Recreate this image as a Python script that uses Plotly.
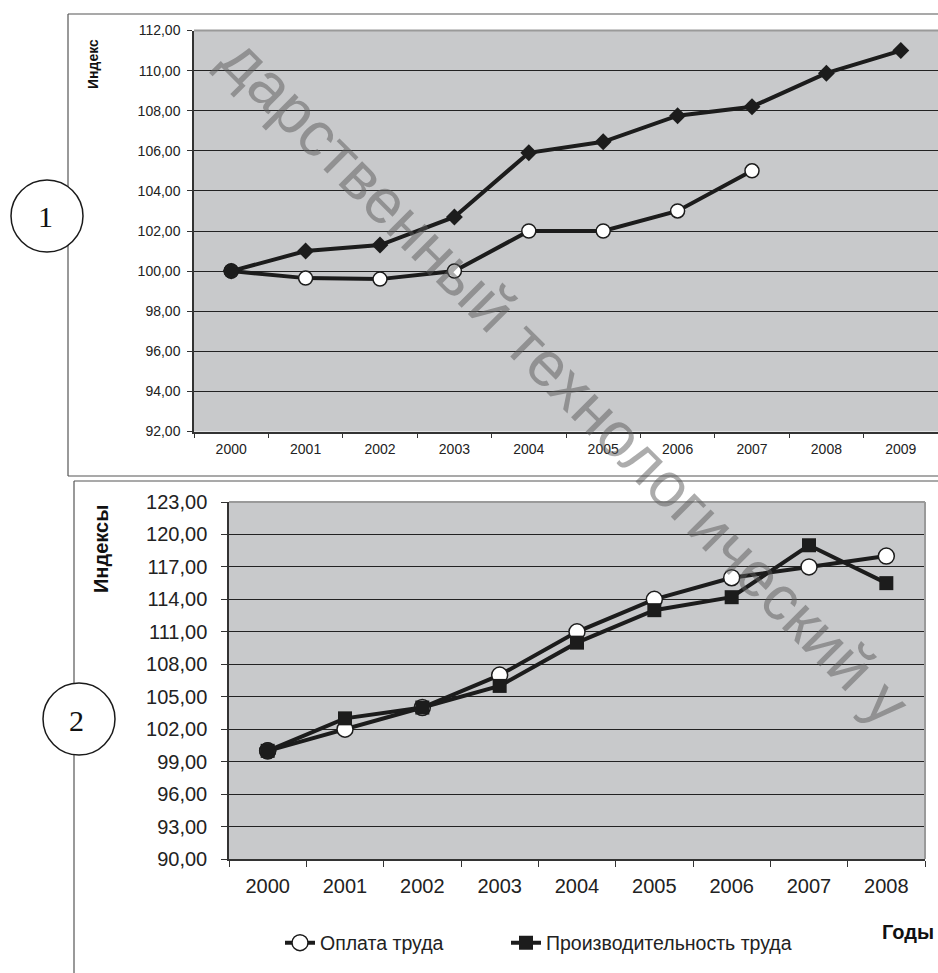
import plotly.graph_objects as go

W, H = 938, 973

# ---- data -----------------------------------------------------------------
years_1 = ["2000", "2001", "2002", "2003", "2004", "2005", "2006", "2007", "2008", "2009"]
index_upper = [100.0, 101.0, 101.3, 102.7, 105.9, 106.45, 107.75, 108.2, 109.87, 111.0]
index_lower = [100.0, 99.65, 99.6, 100.0, 102.0, 102.0, 103.0, 105.0, None, None]
y_ticks_1 = [92, 94, 96, 98, 100, 102, 104, 106, 108, 110, 112]

years_2 = ["2000", "2001", "2002", "2003", "2004", "2005", "2006", "2007", "2008"]
wages = [100.0, 102.0, 104.0, 107.0, 111.0, 114.0, 116.0, 117.0, 118.0]
productivity = [100.0, 103.0, 104.0, 106.0, 110.0, 113.0, 114.2, 119.0, 115.5]
y_ticks_2 = [90, 93, 96, 99, 102, 105, 108, 111, 114, 117, 120, 123]

name_wages = "Оплата труда"
name_prod = "Производительность труда"

# ---- helpers (pixel -> paper) ----------------------------------------------
def fx(x):
    return x / W


def fy(y):
    return 1 - y / H


SANS = "Arial, Liberation Sans, sans-serif"
SERIF = "Times New Roman, Liberation Serif, serif"
INK = "#1c1c1c"
PLOT_BG = "#c8c9cb"

fig = go.Figure()

# ---- chart 1 ---------------------------------------------------------------
fig.add_trace(go.Scatter(
    x=years_1, y=index_lower, mode="lines+markers", showlegend=False,
    line=dict(color=INK, width=4),
    marker=dict(symbol="circle", size=14, color="white",
                line=dict(color=INK, width=1.5)),
    xaxis="x", yaxis="y", connectgaps=False,
))
# shared starting point, where both series overlap
fig.add_trace(go.Scatter(
    x=years_1[:1], y=index_lower[:1], mode="markers", showlegend=False,
    marker=dict(symbol="circle", size=14, color="#333333",
                line=dict(color=INK, width=1.5)),
    xaxis="x", yaxis="y",
))
fig.add_trace(go.Scatter(
    x=years_1, y=index_upper, mode="lines+markers", showlegend=False,
    line=dict(color=INK, width=4),
    marker=dict(symbol="diamond", size=13, color=INK, line=dict(width=0)),
    xaxis="x", yaxis="y",
))

# ---- chart 2 ---------------------------------------------------------------
fig.add_trace(go.Scatter(
    x=years_2, y=wages, mode="lines+markers", name=name_wages,
    line=dict(color=INK, width=4),
    marker=dict(symbol="circle", size=16, color="white",
                line=dict(color=INK, width=1.5)),
    xaxis="x2", yaxis="y2", legend="legend",
))
fig.add_trace(go.Scatter(
    x=years_2[:1], y=wages[:1], mode="markers", showlegend=False,
    marker=dict(symbol="circle", size=16, color="#333333",
                line=dict(color=INK, width=1.5)),
    xaxis="x2", yaxis="y2",
))
fig.add_trace(go.Scatter(
    x=years_2, y=productivity, mode="lines+markers", name=name_prod,
    line=dict(color=INK, width=4),
    marker=dict(symbol="square", size=14, color=INK, line=dict(width=0)),
    xaxis="x2", yaxis="y2", legend="legend2",
))

axis_common = dict(showline=True, linecolor="#333333", linewidth=1.5,
                   ticks="outside", tickcolor="#333333", zeroline=False,
                   automargin=False)

legend_common = dict(orientation="h", yanchor="middle", xanchor="left",
                     font=dict(size=19.5, family=SANS, color="#222222"),
                     bgcolor="rgba(0,0,0,0)", itemclick=False,
                     itemdoubleclick=False)

fig.update_layout(
    width=W, height=H,
    margin=dict(l=0, r=0, t=0, b=0, autoexpand=False),
    paper_bgcolor="white", plot_bgcolor=PLOT_BG,
    separators=", ",
    font=dict(family=SANS, color="#222222"),
    xaxis=dict(domain=[fx(194), 1.0], anchor="y", type="category",
               range=[-0.5, 9.5], tickson="boundaries", ticklen=5,
               showgrid=False, tickfont=dict(size=14),
               ticklabelstandoff=4, **axis_common),
    yaxis=dict(domain=[fy(431.5), fy(30.5)], anchor="x",
               range=[92, 112], tickvals=y_ticks_1, tickformat=".2f",
               ticklen=5, showgrid=True, gridcolor="#222222", gridwidth=1,
               tickfont=dict(size=14), ticklabelstandoff=4, **axis_common),
    xaxis2=dict(domain=[fx(229), fx(925)], anchor="y2", type="category",
                range=[-0.5, 8.5], tickson="boundaries", ticklen=6,
                showgrid=False, tickfont=dict(size=20),
                ticklabelstandoff=8, **axis_common),
    yaxis2=dict(domain=[fy(859), fy(502)], anchor="x2",
                range=[90, 123], tickvals=y_ticks_2, tickformat=".2f",
                ticklen=6, showgrid=True, gridcolor="#222222", gridwidth=1,
                tickfont=dict(size=20), ticklabelstandoff=10, **axis_common),
    legend=dict(x=fx(280), y=fy(943), **legend_common),
    legend2=dict(x=fx(506), y=fy(943), **legend_common),
)

shapes = []
# light plot-area borders (top of chart 1; top and right of chart 2)
shapes.append(dict(type="line", xref="x domain", yref="y domain",
                   x0=0, x1=1, y0=1, y1=1, line=dict(color="#9a9a9a", width=2)))
shapes.append(dict(type="line", xref="x2 domain", yref="y2 domain",
                   x0=0, x1=1, y0=1, y1=1, line=dict(color="#9a9a9a", width=2)))
shapes.append(dict(type="line", xref="x2 domain", yref="y2 domain",
                   x0=1, x1=1, y0=0, y1=1, line=dict(color="#9a9a9a", width=2)))
# outer frames
frame = dict(color="#555555", width=1.2)
shapes.append(dict(type="line", xref="paper", yref="paper",
                   x0=fx(68), x1=1.0, y0=fy(14), y1=fy(14), line=frame))
shapes.append(dict(type="line", xref="paper", yref="paper",
                   x0=fx(68), x1=fx(68), y0=fy(14), y1=fy(476), line=frame))
shapes.append(dict(type="line", xref="paper", yref="paper",
                   x0=fx(68), x1=1.0, y0=fy(476), y1=fy(476), line=frame))
shapes.append(dict(type="line", xref="paper", yref="paper",
                   x0=fx(74), x1=1.0, y0=fy(481), y1=fy(481), line=frame))
shapes.append(dict(type="line", xref="paper", yref="paper",
                   x0=fx(74), x1=fx(74), y0=fy(481), y1=0, line=frame))
# numbered circles
for cx, cy in [(47, 216), (79, 719)]:
    shapes.append(dict(type="circle", xref="paper", yref="paper",
                       x0=fx(cx - 36), x1=fx(cx + 36),
                       y0=fy(cy + 36), y1=fy(cy - 36),
                       fillcolor="white", line=dict(color="#1a1a1a", width=1.5)))
fig.update_layout(shapes=shapes)

annotations = [
    dict(text="<b>Индекс</b>", x=fx(93), y=fy(64), textangle=-90,
         font=dict(size=14, family=SANS, color="#111111")),
    dict(text="<b>Индексы</b>", x=fx(101), y=fy(549), textangle=-90,
         font=dict(size=20, family=SANS, color="#111111")),
    dict(text="<b>Годы</b>", x=fx(908), y=fy(932),
         font=dict(size=20, family=SANS, color="#111111")),
    dict(text="1", x=fx(45), y=fy(216),
         font=dict(size=30, family=SERIF, color="#111111")),
    dict(text="2", x=fx(76), y=fy(720),
         font=dict(size=30, family=SERIF, color="#111111")),
    dict(text="дарственный технологический у", x=fx(566), y=fy(381),
         textangle=45, font=dict(size=63, family=SANS,
                                 color="rgba(90,90,90,0.5)")),
]
for a in annotations:
    a.update(xref="paper", yref="paper", showarrow=False,
             xanchor="center", yanchor="middle")
fig.update_layout(annotations=annotations)

fig.write_html("out.html")
